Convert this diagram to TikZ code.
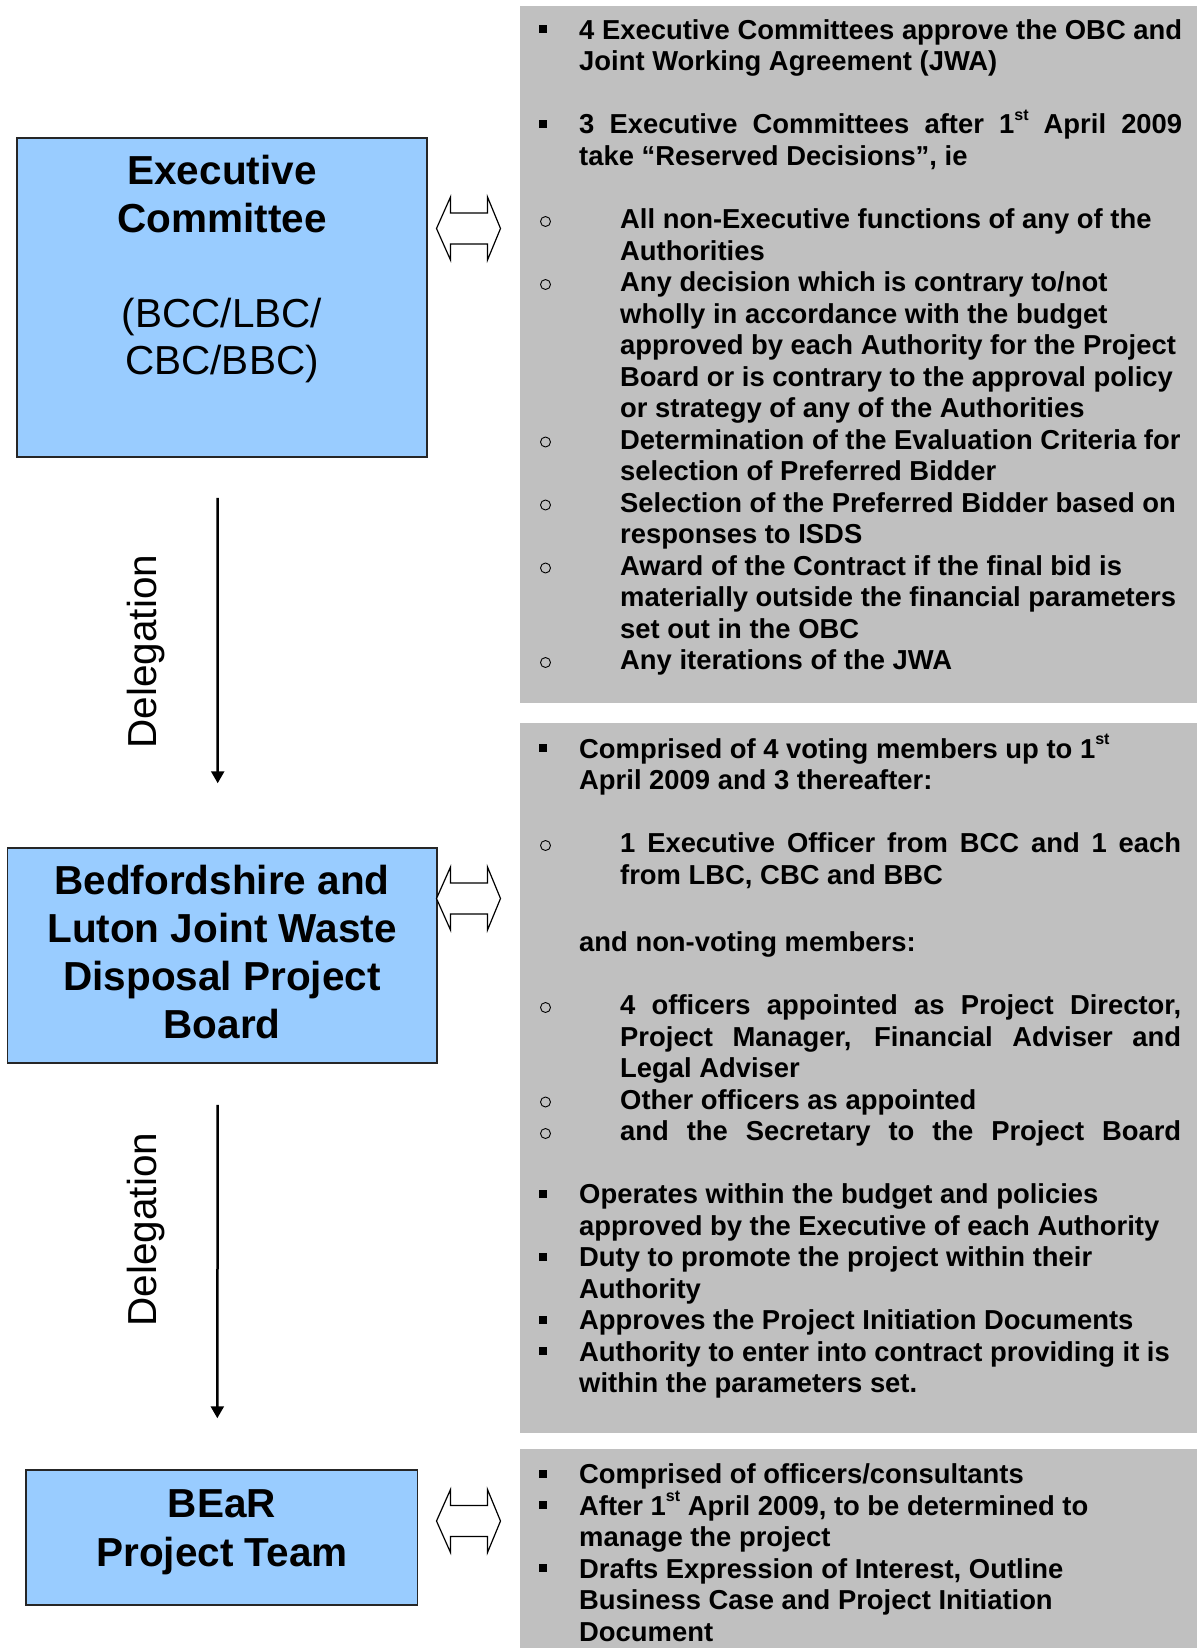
\documentclass[tikz,border=0pt]{standalone}
\usepackage{fontspec}
\setmainfont{Liberation Sans}
\usetikzlibrary{arrows.meta}
\definecolor{boxblue}{RGB}{153,204,255}
\definecolor{panelgray}{RGB}{192,192,192}
\newcommand{\supst}{\raisebox{0.5em}{\fontsize{16}{16}\selectfont st}}

\begin{document}
\begin{tikzpicture}[x=1pt, y=-1pt,
    box/.style={draw=black!85, line width=1.5pt, fill=boxblue, inner sep=0pt},
    panel/.style={fill=panelgray, inner sep=0pt, anchor=north west},
    title/.style={anchor=base, inner sep=0pt, font=\fontsize{40.5}{48}\selectfont\bfseries},
    plain/.style={anchor=base, inner sep=0pt, font=\fontsize{40.5}{48}\selectfont},
    txt/.style={anchor=base west, inner sep=0pt, font=\fontsize{27.4}{31.5}\selectfont\bfseries},
    dblarrow/.style={draw=black, line width=1.2pt, fill=white, line join=miter},
    deleg/.style={-{Triangle[width=13pt,length=12pt]}, line width=2.5pt}]
    \useasboundingbox (0,0) rectangle (1197,1648);

    % boxes and panels
    \node[box, minimum width=410pt, minimum height=319pt] (ec) at (222,297.5) {};
    \node[box, minimum width=429.5pt, minimum height=215pt] (board) at (222.25,955.5) {};
    \node[box, minimum width=391.5pt, minimum height=135pt] (team) at (221.75,1537.5) {};
    \node[panel, minimum width=677pt, minimum height=697pt] (p1) at (520,6) {};
    \node[panel, minimum width=677pt, minimum height=710pt] (p2) at (520,723) {};
    \node[panel, minimum width=677pt, minimum height=199pt] (p3) at (520,1449) {};

    % box titles
    \node[title] (ec1) at (222,184.5) {Executive};
    \node[title] (ec2) at (222,232) {Committee};
    \node[plain] (ec3) at (222,327.5) {(BCC/LBC/};
    \node[plain] (ec4) at (222,374) {CBC/BBC)};
    \node[title] (bd1) at (222,894) {Bedfordshire and};
    \node[title] (bd2) at (222,942.5) {Luton Joint Waste};
    \node[title] (bd3) at (222,990) {Disposal Project};
    \node[title] (bd4) at (222,1038) {Board};
    \node[title] (tm1) at (222,1517) {BEaR};
    \node[title] (tm2) at (222,1566) {Project Team};

    % delegation arrows
    \draw[deleg, shorten <=40pt, shorten >=64pt] ([xshift=-4.5pt]ec.south) -- ([xshift=-4.5pt]board.north);
    \draw[deleg, shorten <=41pt, shorten >=51pt] ([xshift=-4.5pt]board.south) -- ([xshift=-4.5pt]team.north);
    \node[plain, rotate=90] (dl1) at (156,651.5) {Delegation};
    \node[plain, rotate=90] (dl2) at (156,1229.5) {Delegation};

    % double arrows
    \foreach \yc in {228.5,898.5,1521}
      \draw[dblarrow] (436.5,\yc) -- (450.5,\yc-31.5) -- (450.5,\yc-15.5) -- (487.5,\yc-15.5)
        -- (487.5,\yc-31.5) -- (500.5,\yc) -- (487.5,\yc+31.5) -- (487.5,\yc+15.5)
        -- (450.5,\yc+15.5) -- (450.5,\yc+31.5) -- cycle;

    % bullets
    \foreach \y in {39.5,134,758,1203.5,1266.5,1329.5,1361,1483.5,1515,1578}
      \fill (539,\y-14) rectangle ++(8,8);
    \foreach \y in {228.5,291.5,449,512,575,669.5,852.5,1014.5,1109,1140.5}
      \draw[line width=0.9pt] (545.5,\y-7) circle[radius=5];

    % panel 1
    \node[txt] (pa1) at (579,39.5) {\makebox[603pt][s]{4 Executive Committees approve the OBC and}};
    \node[txt] (pa2) at (579,71) {Joint Working Agreement (JWA)};
    \node[txt] (pa3) at (579,134) {\makebox[603pt][s]{3 Executive Committees after 1\supst\ April 2009}};
    \node[txt] (pa4) at (579,165.5) {take “Reserved Decisions”, ie};
    \foreach \y/\t [count=\i] in {228.5/{All non-Executive functions of any of the},
        260/{Authorities}, 291.5/{Any decision which is contrary to/not},
        323/{wholly in accordance with the budget}, 354.5/{approved by each Authority for the Project},
        386/{Board or is contrary to the approval policy}, 417.5/{or strategy of any of the Authorities},
        449/{Determination of the Evaluation Criteria for}, 480.5/{selection of Preferred Bidder},
        512/{Selection of the Preferred Bidder based on}, 543.5/{responses to ISDS},
        575/{Award of the Contract if the final bid is}, 606.5/{materially outside the financial parameters},
        638/{set out in the OBC}, 669.5/{Any iterations of the JWA}}
      \node[txt] (pb\i) at (620,\y) {\t};

    % panel 2
    \node[txt] (qa1) at (579,758) {Comprised of 4 voting members up to 1\supst};
    \node[txt] (qa2) at (579,789.5) {April 2009 and 3 thereafter:};
    \node[txt] (qa3) at (620,852.5) {\makebox[561pt][s]{1 Executive Officer from BCC and 1 each}};
    \node[txt] (qa4) at (620,884) {from LBC, CBC and BBC};
    \node[txt] (qa5) at (579,951.5) {and non-voting members:};
    \node[txt] (qa6) at (620,1014.5) {\makebox[561pt][s]{4 officers appointed as Project Director,}};
    \node[txt] (qa7) at (620,1046) {\makebox[561pt][s]{Project Manager, Financial Adviser and}};
    \node[txt] (qa8) at (620,1077.5) {Legal Adviser};
    \node[txt] (qa9) at (620,1109) {Other officers as appointed};
    \node[txt] (qa10) at (620,1140.5) {\makebox[561pt][s]{and the Secretary to the Project Board}};
    \foreach \y/\t [count=\i] in {1203.5/{Operates within the budget and policies},
        1235/{approved by the Executive of each Authority}, 1266.5/{Duty to promote the project within their},
        1298/{Authority}, 1329.5/{Approves the Project Initiation Documents},
        1361/{Authority to enter into contract providing it is}, 1392.5/{within the parameters set.}}
      \node[txt] (qb\i) at (579,\y) {\t};

    % panel 3
    \foreach \y/\t [count=\i] in {1483.5/{Comprised of officers/consultants},
        1515/{After 1\supst\ April 2009, to be determined to}, 1546.5/{manage the project},
        1578/{Drafts Expression of Interest, Outline}, 1609.5/{Business Case and Project Initiation},
        1641/{Document}}
      \node[txt] (ra\i) at (579,\y) {\t};
\end{tikzpicture}
\end{document}
